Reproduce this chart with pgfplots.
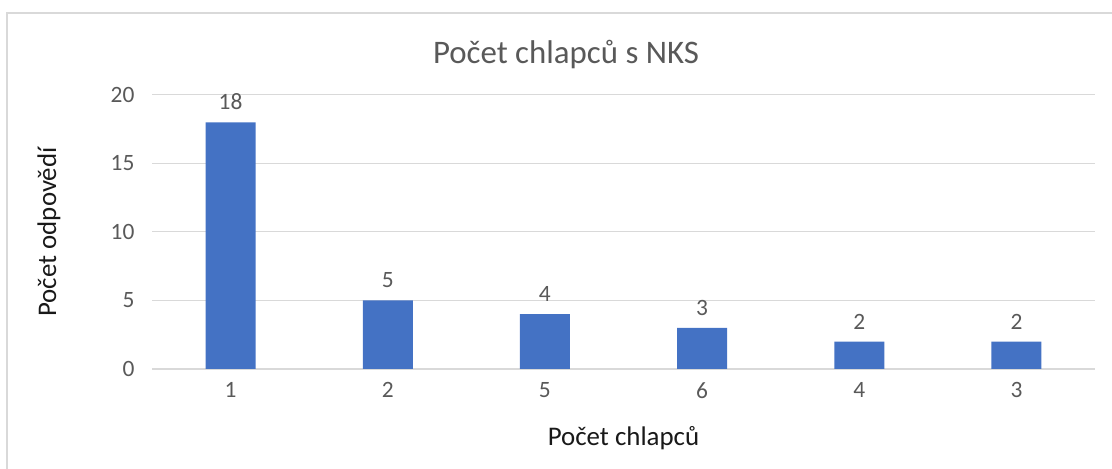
\documentclass[border=0pt]{standalone}
\usepackage{pgfplots}
\pgfplotsset{compat=1.18}
\usepackage{fontspec}
\setmainfont{Carlito}
\definecolor{barblue}{HTML}{4472C4}
\definecolor{txtgray}{HTML}{595959}
\definecolor{gridgray}{HTML}{D9D9D9}
\begin{document}
\begin{tikzpicture}[x=1bp,y=1bp]
\useasboundingbox (0,0) rectangle (1112,469);
\draw[gridgray, line width=1.5bp] (7,-20) -- (7,456) -- (1130,456);
\node[font=\fontsize{33}{36}\selectfont, text=txtgray] at (566,414) {Počet chlapců s NKS};
\begin{axis}[
  scale only axis,
  width=943bp, height=274bp,
  at={(152bp,100bp)}, anchor=south west,
  ybar, bar width=50bp,
  ymin=0, ymax=20, ytick={0,5,10,15,20},
  xmin=-0.5, xmax=5.5,
  xtick=data, xticklabels={1,2,5,6,4,3},
  axis x line*=bottom, axis y line*=left,
  x axis line style={gridgray, line width=1.2bp},
  y axis line style={draw=none},
  major tick length=0pt,
  ymajorgrids, grid style={gridgray, line width=1bp},
  tick label style={font=\fontsize{23.5}{26}\selectfont, text=txtgray},
  yticklabel style={xshift=-14bp},
  xticklabel style={yshift=-10bp},
  /pgf/number format/assume math mode=true,
  nodes near coords,
  nodes near coords style={font=\fontsize{23.5}{26}\selectfont, text=txtgray, yshift=9bp},
  xlabel={Počet chlapců},
  ylabel={Počet odpovědí},
  label style={font=\fontsize{27}{30}\selectfont, text=black!90},
  xlabel style={at={(0.5,0)}, yshift=-54bp, anchor=north},
  ylabel style={at={(0,0.5)}, anchor=south, yshift=88bp},
]
\addplot[fill=barblue, draw=none] coordinates {
  (0,18) (1,5) (2,4) (3,3) (4,2) (5,2)
};
\end{axis}
\end{tikzpicture}
\end{document}
